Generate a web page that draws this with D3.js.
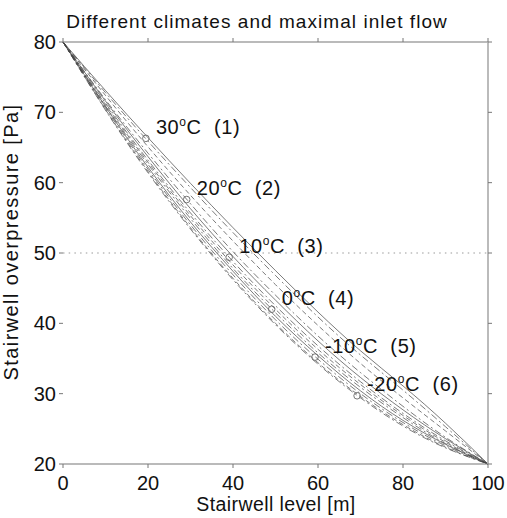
<!DOCTYPE html>
<html>
<head>
<meta charset="utf-8">
<script src="https://cdn.jsdelivr.net/npm/d3@7"></script>
<style>
  body { margin: 0; background: #fff; }
  svg { font-family: "Liberation Sans", Arial, sans-serif; }
</style>
</head>
<body>
<div id="chart"></div>
<script>
const levels = [0, 10, 20, 30, 40, 50, 60, 70, 80, 90, 100];

// pressure profiles [Pa] along the stairwell
const pressureCurves = [
    [80, 73.1, 66.4, 59.9, 53.6, 47.5, 41.6, 36.1, 31.1, 25.8, 20],
    [80, 72.8, 65.9, 59.3, 52.9, 46.8, 40.9, 35.5, 30.5, 25.3, 20],
    [80, 72.4, 65.1, 58.2, 51.7, 45.5, 39.7, 34.3, 29.4, 24.7, 20],
    [80, 71.8, 64.2, 57.0, 50.2, 44.0, 38.2, 33.0, 28.2, 23.8, 20],
    [80, 71.6, 63.7, 56.3, 49.5, 43.3, 37.5, 32.3, 27.7, 23.6, 20],
    [80, 71.3, 63.2, 55.7, 48.8, 42.5, 36.8, 31.7, 27.2, 23.3, 20],
    [80, 71.1, 62.9, 55.3, 48.3, 42.0, 36.3, 31.3, 26.9, 23.1, 20],
    [80, 70.9, 62.6, 54.9, 47.8, 41.5, 35.8, 30.9, 26.6, 22.9, 20],
    [80, 70.8, 62.2, 54.4, 47.4, 41.0, 35.4, 30.4, 26.2, 22.8, 20],
    [80, 70.6, 61.9, 54.0, 46.9, 40.5, 34.9, 30.0, 25.9, 22.6, 20],
    [80, 70.4, 61.6, 53.6, 46.4, 40.0, 34.4, 29.6, 25.6, 22.4, 20],
    [80, 70.3, 61.4, 53.4, 46.2, 39.8, 34.2, 29.4, 25.4, 22.3, 20]
];

const climateTemps = ['30', '20', '10', '0', '-10', '-20'];
const climateNums = [1, 2, 3, 4, 5, 6];
const markerLevels = [19.5, 29.1, 39.1, 49.1, 59.3, 69.2];
const markerPressures = [66.3, 57.6, 49.4, 42.0, 35.2, 29.7];

const xTicks = [0, 20, 40, 60, 80, 100];
const yTicks = [20, 30, 40, 50, 60, 70, 80];
const refPressure = 50;

const dashStyles = ['none', '7,3,2,3', '5,3', '7,3,2,3'];

const width = 507, height = 518;

const svg = d3.select('#chart')
    .append('svg')
    .attr('width', width)
    .attr('height', height);

const xScale = d3.scaleLinear().domain([0, 100]).range([63, 488]);
const yScale = d3.scaleLinear().domain([20, 80]).range([464, 42]);

// dotted reference line
svg.append('line')
    .attr('x1', xScale(0)).attr('x2', xScale(100))
    .attr('y1', yScale(refPressure)).attr('y2', yScale(refPressure))
    .attr('stroke', '#999')
    .attr('stroke-width', 1)
    .attr('stroke-dasharray', '1.5,4.2');

const line = d3.line()
    .x((d, i) => xScale(levels[i]))
    .y(d => yScale(d))
    .curve(d3.curveNatural);

svg.selectAll('.curve')
    .data(pressureCurves)
    .enter()
    .append('path')
    .attr('class', 'curve')
    .attr('d', d => line(d))
    .attr('fill', 'none')
    .attr('stroke', '#444')
    .attr('stroke-width', 0.7)
    .attr('stroke-dasharray', (d, i) => dashStyles[i % dashStyles.length]);

svg.selectAll('.marker')
    .data(markerLevels)
    .enter()
    .append('circle')
    .attr('class', 'marker')
    .attr('cx', d => xScale(d))
    .attr('cy', (d, i) => yScale(markerPressures[i]))
    .attr('r', 3.3)
    .attr('fill', 'none')
    .attr('stroke', '#666')
    .attr('stroke-width', 0.9);

const labels = svg.selectAll('.climate')
    .data(climateTemps)
    .enter()
    .append('text')
    .attr('class', 'climate')
    .attr('x', (d, i) => xScale(markerLevels[i]) + 10)
    .attr('y', (d, i) => yScale(markerPressures[i]) - 4.5)
    .style('font-size', '20px')
    .style('letter-spacing', '0.6px')
    .style('fill', '#111');
labels.append('tspan').text(d => d);
labels.append('tspan').attr('dy', -8).style('font-size', '12px').text('o');
labels.append('tspan').attr('dy', 8).text((d, i) => `C\u00a0\u00a0(${climateNums[i]})`);

// frame: top, bottom and right edges
const frame = svg.append('g').attr('stroke', '#777').attr('stroke-width', 1.2);
frame.append('line').attr('x1', xScale(0)).attr('x2', xScale(100)).attr('y1', yScale(80)).attr('y2', yScale(80));
frame.append('line').attr('x1', xScale(0)).attr('x2', xScale(100)).attr('y1', yScale(20)).attr('y2', yScale(20));
frame.append('line').attr('x1', xScale(100)).attr('x2', xScale(100)).attr('y1', yScale(80)).attr('y2', yScale(20))
    .attr('stroke', '#aaa').attr('stroke-width', 1.6);

const ticks = svg.append('g').attr('stroke', '#777').attr('stroke-width', 1);
xTicks.forEach(t => {
    ticks.append('line').attr('x1', xScale(t)).attr('x2', xScale(t)).attr('y1', yScale(20)).attr('y2', yScale(20) + 4);
    ticks.append('line').attr('x1', xScale(t)).attr('x2', xScale(t)).attr('y1', yScale(80)).attr('y2', yScale(80) - 4);
});
yTicks.forEach(t => {
    ticks.append('line').attr('x1', xScale(0) - 4).attr('x2', xScale(0)).attr('y1', yScale(t)).attr('y2', yScale(t));
    ticks.append('line').attr('x1', xScale(100)).attr('x2', xScale(100) + 4).attr('y1', yScale(t)).attr('y2', yScale(t));
});

svg.selectAll('.xlab')
    .data(xTicks)
    .enter()
    .append('text')
    .attr('x', d => xScale(d))
    .attr('y', 490)
    .attr('text-anchor', 'middle')
    .style('font-size', '20px')
    .style('fill', '#111')
    .text(d => d);

svg.selectAll('.ylab')
    .data(yTicks)
    .enter()
    .append('text')
    .attr('x', 56)
    .attr('y', d => yScale(d) + 7)
    .attr('text-anchor', 'end')
    .style('font-size', '20px')
    .style('fill', '#111')
    .text(d => d);

svg.append('text')
    .attr('x', 257)
    .attr('y', 28)
    .attr('text-anchor', 'middle')
    .style('font-size', '19px')
    .style('letter-spacing', '1.05px')
    .style('fill', '#111')
    .text('Different climates and maximal inlet flow');

svg.append('text')
    .attr('x', 276)
    .attr('y', 511)
    .attr('text-anchor', 'middle')
    .style('font-size', '19.5px')
    .style('letter-spacing', '0.4px')
    .style('fill', '#111')
    .text('Stairwell level [m]');

svg.append('text')
    .attr('transform', 'translate(18, 242) rotate(-90)')
    .attr('text-anchor', 'middle')
    .style('font-size', '20px')
    .style('letter-spacing', '1.4px')
    .style('fill', '#111')
    .text('Stairwell overpressure [Pa]');
</script>
</body>
</html>
